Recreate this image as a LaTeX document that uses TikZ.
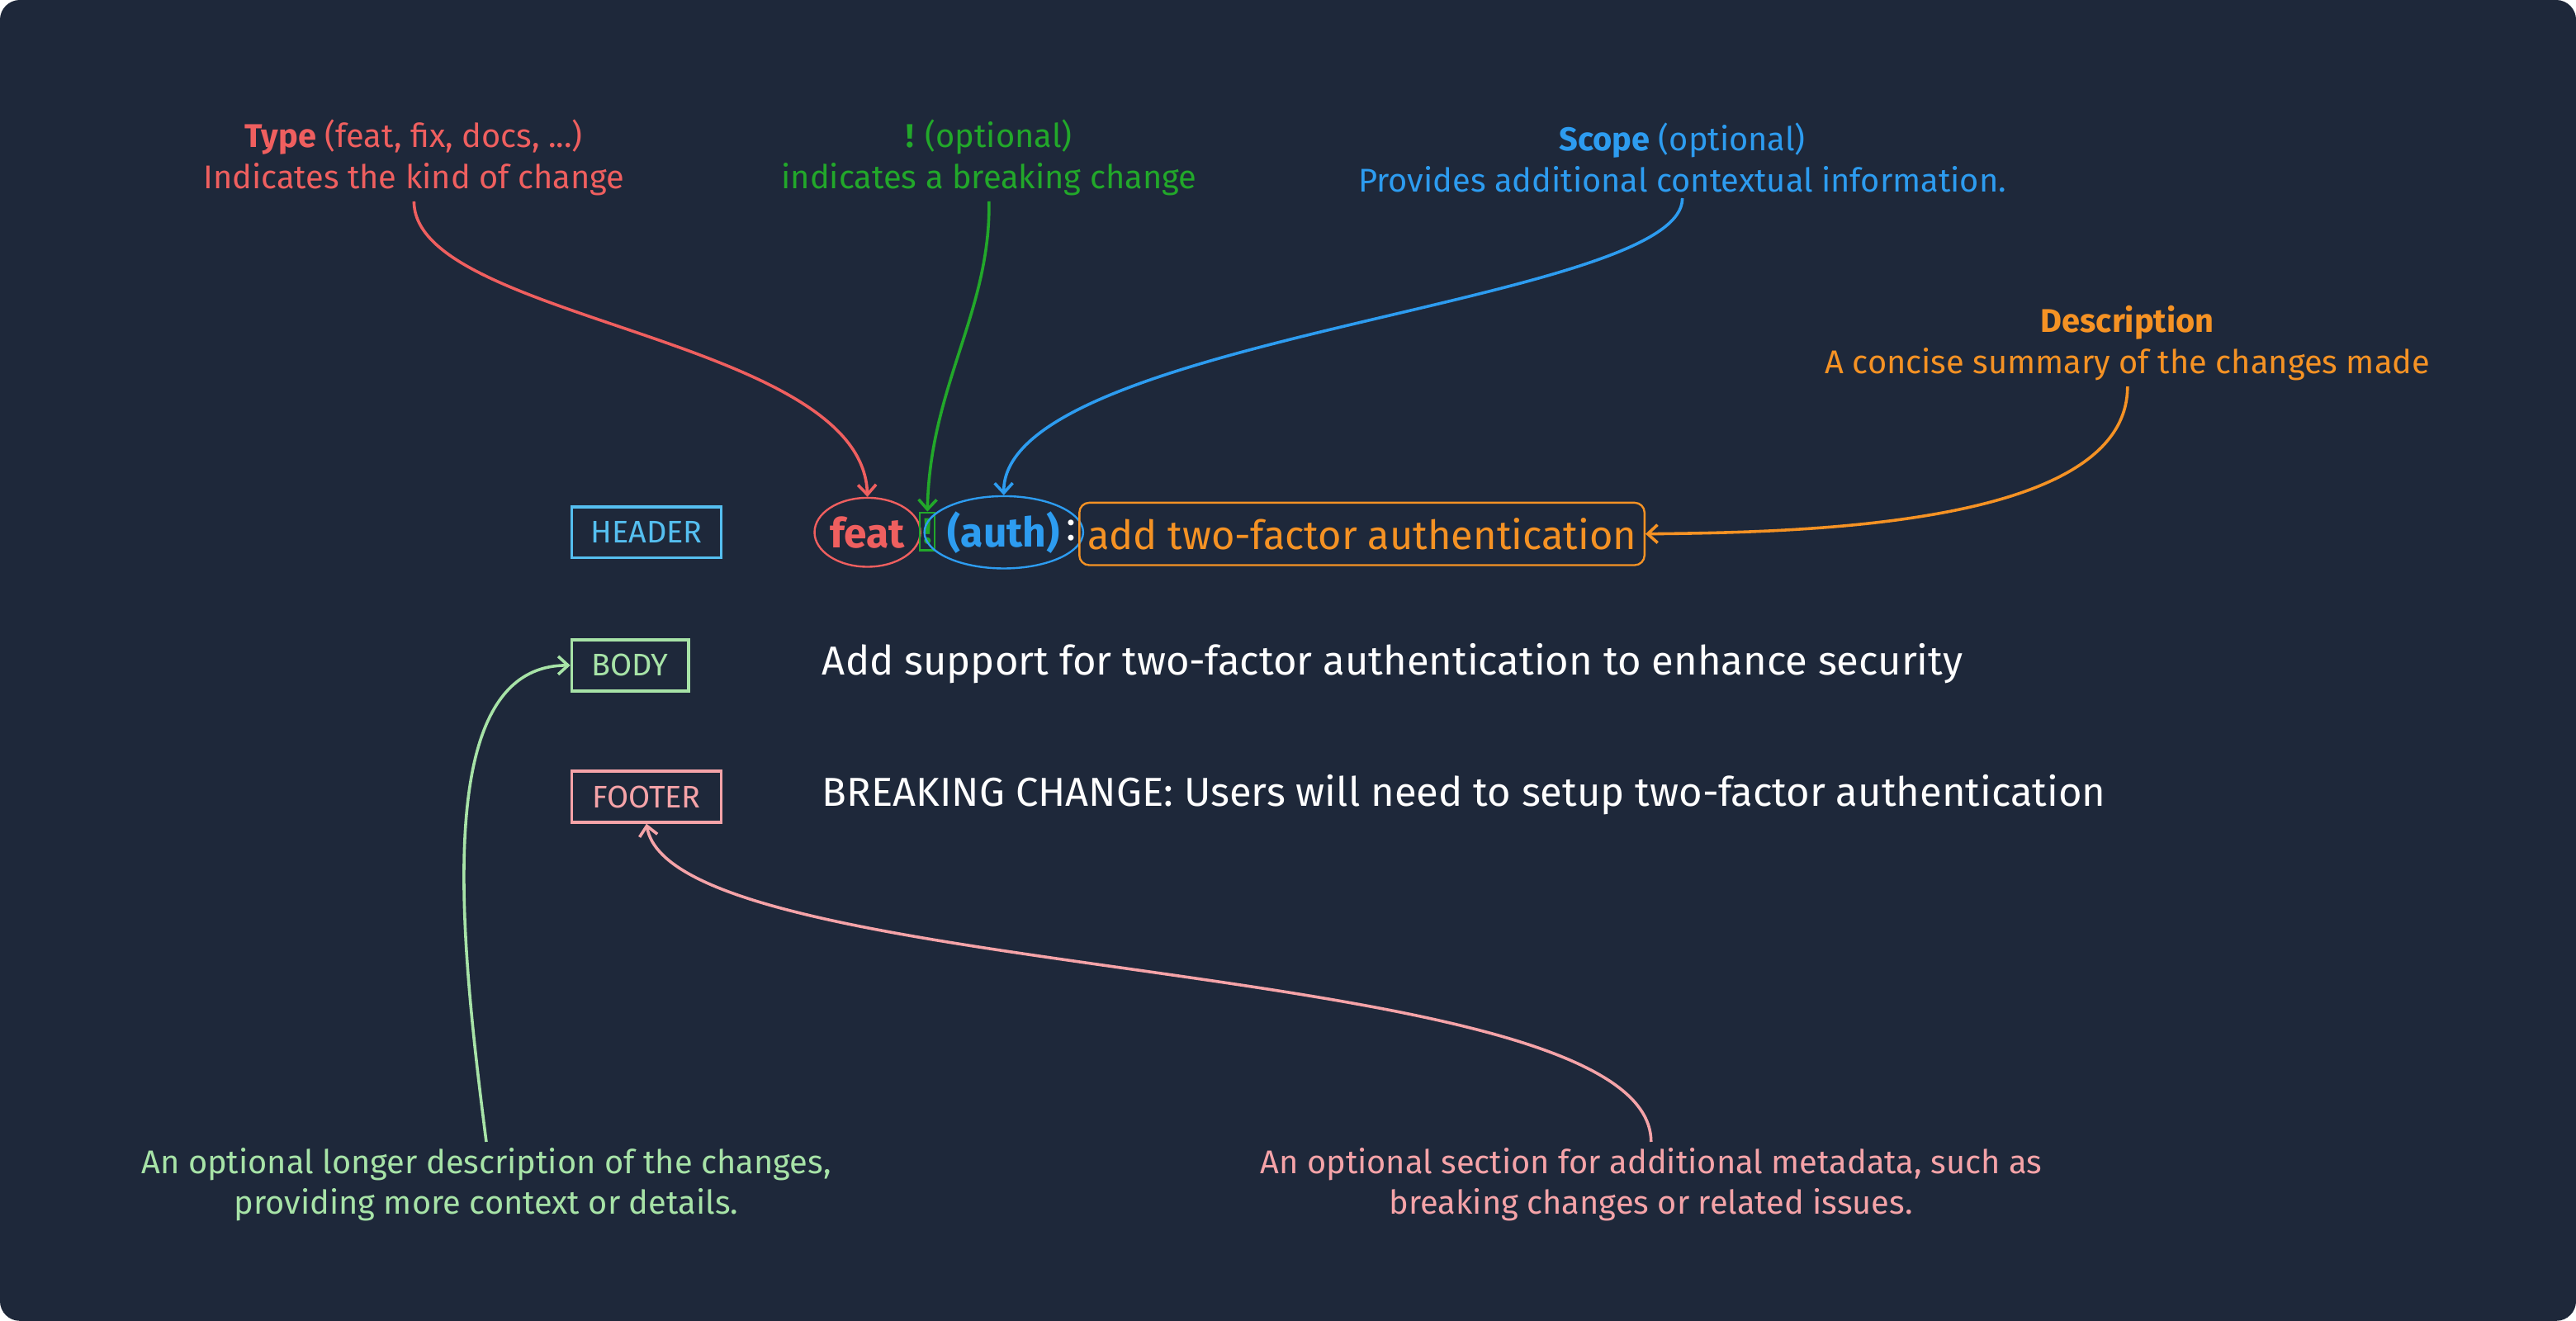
\documentclass[tikz,border=0pt]{standalone}
\usepackage{fontspec}
\setmainfont{Fira Sans}
\usetikzlibrary{shapes.geometric,arrows.meta,positioning}
\definecolor{bgc}{HTML}{1E283A}
\definecolor{typec}{HTML}{EF5F5F}
\definecolor{bangc}{HTML}{22A82A}
\definecolor{scopec}{HTML}{2D9CF0}
\definecolor{descc}{HTML}{F59224}
\definecolor{headc}{HTML}{55BFF0}
\definecolor{bodyc}{HTML}{A7E3A7}
\definecolor{footc}{HTML}{F5A3A8}
\tikzset{
  note/.style = {align=center, font=\fontsize{20}{25}\selectfont},
  part/.style = {draw, line width=1.8pt, inner sep=4pt, font=\fontsize{19}{19}\selectfont},
  link/.style = {line width=1.8pt, -{Straight Barb[length=6pt,width=11pt]}},
  msg/.style  = {anchor=west, text=white, font=\fontsize{24.6}{24.6}\selectfont}
}
\begin{document}
\begin{tikzpicture}[x=1pt,y=-1pt]
% background
\fill[bgc, rounded corners=12pt] (0,0) rectangle (1568,804);
\useasboundingbox (0,0) rectangle (1568,804);

% annotations on top
\node[note, text=typec] (type) at (252,96)
  {\textbf{Type} (feat, fix, docs, ...)\\Indicates the kind of change};
\node[note, text=bangc] (bang) at (602,96)
  {\textbf{!} (optional)\\indicates a breaking change};
\node[note, text=scopec] (scope) at (1024,96)
  {\textbf{Scope} (optional)\\Provides additional contextual information.};
\node[note, text=descc] (desc) at (1295,209)
  {\textbf{Description}\\A concise summary of the changes made};

% section labels
\node[part, headc, text=headc, minimum width=91pt, minimum height=31pt] (header) at (393.5,324) {HEADER};
\node[part, bodyc, text=bodyc, minimum width=71pt, minimum height=31pt] (body) at (383.5,405) {BODY};
\node[part, footc, text=footc, minimum width=91pt, minimum height=31pt] (footer) at (393.5,485) {FOOTER};

% header line
\node[ellipse, draw=typec, line width=1.2pt, inner sep=0pt, minimum width=54pt, minimum height=42pt,
  text=typec, font=\fontsize{25}{25}\selectfont\bfseries] (feat) at (528,324) {feat};
\node[draw=bangc, line width=1.2pt, inner sep=1pt, minimum width=9pt, minimum height=23pt,
  text=bangc, font=\fontsize{22}{22}\selectfont\bfseries] (excl) at (564.5,323.5) {!};
\node[ellipse, draw=scopec, line width=1.2pt, inner sep=0pt, minimum width=74pt, minimum height=44pt,
  text=scopec, font=\fontsize{25}{25}\selectfont\bfseries] (auth) at (611,324) {(auth)};
\node[text=white, font=\fontsize{25}{25}\selectfont, inner sep=0pt] (colon) at (652,323) {:};
\node[draw=descc, line width=1.2pt, rounded corners=6pt, minimum width=344pt, minimum height=38pt,
  text=descc, font=\fontsize{24.5}{24.5}\selectfont] (summary) at (829,325) {add two-factor authentication};

% body and footer
\node[msg] (bodytext) at (497,404) {Add support for two-factor authentication to enhance security};
\node[msg] (foottext) at (497,484) {BREAKING CHANGE: Users will need to setup two-factor authentication};

% bottom annotations
\node[note, text=bodyc] (bodynote) at (296,721)
  {An optional longer description of the changes,\\providing more context or details.};
\node[note, text=footc] (footnote) at (1005,721)
  {An optional section for additional metadata, such as\\breaking changes or related issues.};

% arrows
\draw[link, typec] (type.south) .. controls (252,195) and (525,205) .. (feat.north);
\draw[link, bangc] (bang.south) .. controls (603,190) and (566,235) .. (excl.north);
\draw[link, scopec] (scope.south) .. controls (1025,185) and (610,205) .. (auth.north);
\draw[link, descc] (desc.south) .. controls (1295,320) and (1100,324) .. (summary.east);
\draw[link, bodyc] (bodynote.north) .. controls (280,570) and (262,405) .. (body.west);
\draw[link, footc] (footnote.north) .. controls (1005,580) and (410,600) .. (footer.south);
\end{tikzpicture}
\end{document}
